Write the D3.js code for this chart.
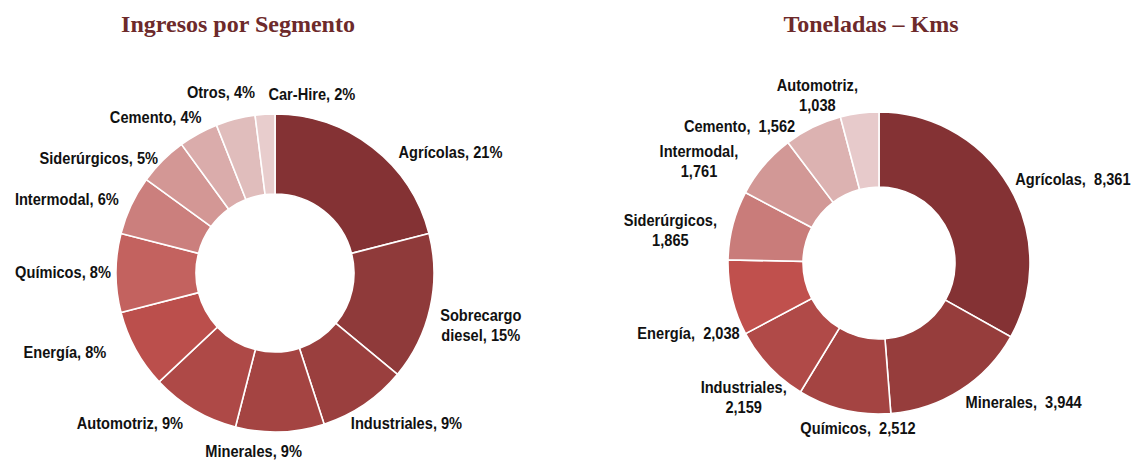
<!DOCTYPE html>
<html>
<head>
<meta charset="utf-8">
<script src="https://cdn.jsdelivr.net/npm/d3@7"></script>
<style>
  body { margin: 0; background: #fff; }
  .title { font-family: "Liberation Serif", "Times New Roman", serif; font-weight: bold; font-size: 24px; fill: #6d2a2b; }
  .lbl { font-family: "Liberation Sans", Arial, sans-serif; font-weight: bold; font-size: 17px; fill: #111; white-space: pre; }
</style>
</head>
<body>
<div id="chart"></div>
<script>
// Ingresos por Segmento (%)
var segCategories = ["Agrícolas", "Sobrecargo diesel", "Industriales", "Minerales", "Automotriz", "Energía",
                     "Químicos", "Intermodal", "Siderúrgicos", "Cemento", "Otros", "Car-Hire"];
var segShares = [21, 15, 9, 9, 9, 8, 8, 6, 5, 4, 4, 2];
var segColors = ["#843234", "#8f3a3a", "#9a3f3e", "#a44442", "#ae4947", "#bb4f4c",
                 "#c3625f", "#cb7f7d", "#d39795", "#daacab", "#e0bdbc", "#e8cdcd"];

// Toneladas - Kms
var tonCategories = ["Agrícolas", "Minerales", "Químicos", "Industriales", "Energía",
                     "Siderúrgicos", "Intermodal", "Cemento", "Automotriz"];
var tonValues = [8361, 3944, 2512, 2159, 2038, 1865, 1761, 1562, 1038];
var tonColors = ["#843234", "#963d3c", "#a44442", "#b04a48", "#c0504d",
                 "#c97c7a", "#d29896", "#dcb2b1", "#e7cacb"];

// label nudges (dx, dy) from the arc point, Excel-like placement
var segNudge = [[67, 19], [33, 13], [32, 4], [-27, 1], [-55, -2], [-55, -6],
                [-35, -1], [-48, 1], [-51, 10], [-34, -1], [-10, -10], [48, -2]];
var tonNudge = [[49, 1], [54, -3], [18, 2], [-13, 19], [-27, 31], [-46, 9], [-52, 7], [-66, 14], [-40, -1]];

var W = 1132, H = 460;
var fmt = d3.format(",");
var narrow = 0.86;   // emulate a condensed face

var svg = d3.select("#chart").append("svg")
    .attr("width", W)
    .attr("height", H);

function donut(opts) {
    var g = svg.append("g")
        .attr("transform", "translate(" + opts.cx + "," + opts.cy + ")");

    var pie = d3.pie().sort(null).value(function(d){ return d.v; });
    var arc = d3.arc().innerRadius(opts.rIn).outerRadius(opts.rOut);
    var labelArc = d3.arc().innerRadius(opts.rLabel).outerRadius(opts.rLabel);

    var data = opts.cats.map(function(c, i){ return {name: c, v: opts.vals[i]}; });
    var arcs = pie(data);

    g.selectAll(".slice")
        .data(arcs)
        .enter()
        .append("path")
        .attr("class", "slice")
        .attr("d", arc)
        .attr("fill", function(d, i){ return opts.colors[i]; })
        .attr("stroke", "#fff")
        .attr("stroke-width", 1.6);

    var lineH = 20;
    var labels = g.selectAll(".lbl")
        .data(arcs)
        .enter()
        .append("text")
        .attr("class", "lbl")
        .attr("text-anchor", "middle")
        .attr("transform", function(d, i){
            var c = labelArc.centroid(d);
            var lines = opts.lines(d.data);
            var y = c[1] + opts.nudge[i][1] + 6 - (lines.length - 1) * lineH / 2;
            return "translate(" + (c[0] + opts.nudge[i][0]) + "," + y + ") scale(" + narrow + ",1)";
        });

    labels.each(function(d){
        var t = d3.select(this);
        opts.lines(d.data).forEach(function(s, k){
            t.append("tspan")
                .attr("x", 0)
                .attr("dy", k === 0 ? 0 : lineH)
                .text(s);
        });
    });

    svg.append("text")
        .attr("class", "title")
        .attr("x", opts.titleX)
        .attr("y", 32)
        .attr("text-anchor", "middle")
        .text(opts.title);
}

donut({
    cx: 275, cy: 273, rIn: 79, rOut: 159, rLabel: 177,
    cats: segCategories, vals: segShares, colors: segColors, nudge: segNudge,
    title: "Ingresos por Segmento", titleX: 238,
    lines: function(d){
        if (d.name === "Sobrecargo diesel") return ["Sobrecargo", "diesel, " + d.v + "%"];
        return [d.name + ", " + d.v + "%"];
    }
});

var tonWrapped = ["Industriales", "Siderúrgicos", "Intermodal", "Automotriz"];

donut({
    cx: 879, cy: 263, rIn: 76, rOut: 151, rLabel: 168,
    cats: tonCategories, vals: tonValues, colors: tonColors, nudge: tonNudge,
    title: "Toneladas \u2013 Kms", titleX: 871,
    lines: function(d){
        if (tonWrapped.indexOf(d.name) >= 0) return [d.name + ",", fmt(d.v)];
        return [d.name + ",  " + fmt(d.v)];
    }
});
</script>
</body>
</html>
